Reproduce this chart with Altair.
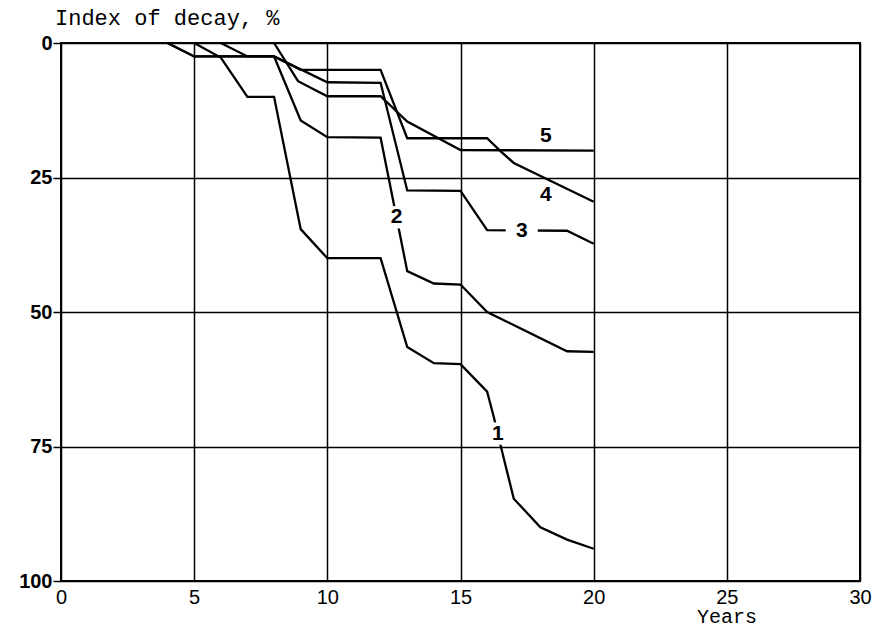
import altair as alt
import pandas as pd

# ---- data ----
c1_x = [5, 6, 7, 8, 9, 10, 12, 13, 14, 15, 16, 16.25, 16.55, 17, 18, 19, 20]
c1_y = [0, 2.7, 10, 10, 34.6, 40, 40, 56.5, 59.5, 59.7, 64.8, 69.5, 75.7, 84.7, 90, 92.3, 94]

c2_x = [4, 5, 8, 9, 10, 12, 13, 14, 15, 16, 19, 20]
c2_y = [0, 2.5, 2.5, 14.4, 17.5, 17.6, 42.4, 44.7, 44.9, 50, 57.3, 57.4]

c3_x = [6, 7, 8, 10, 12, 13, 15, 16, 19, 20]
c3_y = [0, 2.5, 2.5, 7.3, 7.4, 27.4, 27.5, 34.8, 34.9, 37.3]

c4_x = [4, 5, 8, 9, 12, 13, 16, 16.5, 17, 20]
c4_y = [0, 2.5, 2.5, 5, 5, 17.7, 17.7, 20.1, 22.3, 29.5]

c5_x = [8, 8.9, 10, 12, 13, 15, 20]
c5_y = [0, 7.1, 9.9, 9.9, 14.6, 19.9, 20]

curve_names = ["1", "2", "3", "4", "5"]
label_x = [16.4, 12.6, 17.3, 18.2, 18.2]
label_y = [72.6, 32.4, 35.0, 28.2, 17.3]

x_ticks = [0, 5, 10, 15, 20, 25, 30]
y_ticks = [0, 25, 50, 75, 100]
y_title = "Index of decay, %"
x_title = "Years"

# ---- build tables ----
rows = []
for name, xs, ys in zip(curve_names, [c1_x, c2_x, c3_x, c4_x, c5_x], [c1_y, c2_y, c3_y, c4_y, c5_y]):
    for i, (xv, yv) in enumerate(zip(xs, ys)):
        rows.append({"curve": name, "x": xv, "y": yv, "i": i})
df = pd.DataFrame(rows)

labels = pd.DataFrame({"t": curve_names, "x": label_x, "y": label_y})

X = alt.X("x:Q", scale=alt.Scale(domain=[0, 30], nice=False, zero=False),
          axis=alt.Axis(values=x_ticks, grid=True, gridColor="black", gridWidth=1.5,
                        gridOpacity=1, domain=False, ticks=False, labelFontSize=20,
                        labelFont="Liberation Sans", labelColor="black", labelPadding=6,
                        labelFlush=False, title=None))
Y = alt.Y("y:Q", scale=alt.Scale(domain=[0, 100], reverse=True, nice=False, zero=False),
          axis=alt.Axis(values=y_ticks, grid=True, gridColor="black", gridWidth=1.5,
                        gridOpacity=1, domain=False, ticks=True, tickSize=8,
                        tickColor="black", tickWidth=1.5, labelFontSize=20,
                        labelFontWeight="bold", labelFont="Liberation Sans",
                        labelColor="black", labelPadding=1, labelFlush=False, title=None))

base = alt.Chart(df)
lines = base.mark_line(color="black", strokeWidth=2.3).encode(
    x=X, y=Y, detail="curve:N", order="i:Q")

gap_narrow = alt.Chart(labels).transform_filter(
    alt.FieldOneOfPredicate(field="t", oneOf=["1", "2"])
).mark_point(shape="M-0.7,-1L0.7,-1L0.7,1L-0.7,1Z", filled=True, color="white",
             opacity=1, size=500, strokeWidth=0).encode(x="x:Q", y="y:Q")

gap_wide = alt.Chart(labels).transform_filter(
    alt.FieldEqualPredicate(field="t", equal="3")
).mark_point(shape="M-1,-0.55L1,-0.55L1,0.55L-1,0.55Z", filled=True, color="white",
             opacity=1, size=1024, strokeWidth=0).encode(x="x:Q", y="y:Q")

label_text = alt.Chart(labels).mark_text(
    font="Liberation Sans", fontSize=21, fontWeight="bold", color="black",
    align="center", baseline="middle").encode(x="x:Q", y="y:Q", text="t:N")

title_text = alt.Chart(pd.DataFrame({"t": [y_title]})).mark_text(
    font="Liberation Mono", fontSize=22, color="black", align="left",
    baseline="alphabetic").encode(x=alt.value(-6), y=alt.value(-18), text="t:N")

years_text = alt.Chart(pd.DataFrame({"t": [x_title]})).mark_text(
    font="Liberation Mono", fontSize=20, color="black", align="center",
    baseline="alphabetic").encode(x=alt.value(666), y=alt.value(580), text="t:N")

chart = alt.layer(lines, gap_narrow, gap_wide, label_text, title_text, years_text).properties(
    width=799, height=538,
    autosize=alt.AutoSizeParams(type="none"),
    padding={"left": 61, "top": 43, "right": 17, "bottom": 50},
    background="white",
).configure_view(stroke="black", strokeWidth=2)

chart.save("out.html", embed_options={"renderer": "svg", "actions": False})
